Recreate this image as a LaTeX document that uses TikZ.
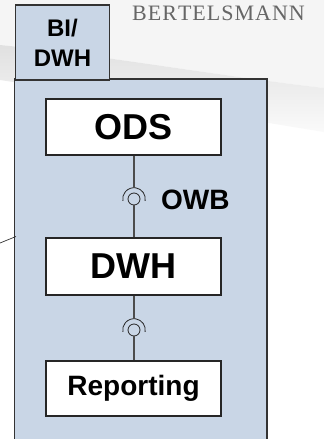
\documentclass[tikz,border=0pt]{standalone}
\usepackage{fontspec}
\setmainfont{Liberation Sans}
\newfontfamily\serifbrand{Liberation Serif}
\begin{document}
\begin{tikzpicture}[x=1pt,y=-1pt,
  comp/.style={draw=black!85,line width=1.2pt,fill=white,inner sep=0pt,font=\bfseries},
  container/.style={draw=black!80,line width=1.4pt,fill=boxblue},
  conn/.style={draw=black!70,line width=1.1pt},
  ballst/.style={circle,draw=black!85,line width=0.8pt,fill=boxblue,minimum size=12pt,inner sep=0pt},
  sockst/.style={draw=black!85,line width=0.8pt}
]
\definecolor{boxblue}{HTML}{C9D6E6}
\useasboundingbox (0,0) rectangle (324,439);
% background
\fill[white] (0,0) rectangle (324,439);
\fill[black!4] (0,0) -- (324,0) -- (324,88) .. controls (220,76) and (100,55) .. (0,45) -- cycle;
\shade[top color=black!12,bottom color=black!2] (0,45) .. controls (100,55) and (220,76) .. (324,88) -- (324,132) .. controls (220,115) and (100,95) .. (0,80) -- cycle;
% brand
\node[font=\serifbrand\fontsize{22}{24}\selectfont,text=black!60,anchor=center] (brand) at (218.5,13) {B\kern1ptE\kern1ptR\kern1ptT\kern1ptE\kern1ptL\kern1ptS\kern1ptM\kern1ptA\kern1ptN\kern1ptN};
% containers
\draw[container] (14.5,445) -- (14.5,79) -- (267,79) -- (267,445);
\node[container,minimum width=94.5pt,minimum height=75pt,anchor=north west,inner sep=0pt,align=center,font=\bfseries\fontsize{24}{30}\selectfont] (tab) at (14.5,4.3) {BI/\\DWH};
% components
\node[comp,minimum width=175pt,minimum height=56pt,font=\bfseries\fontsize{36}{40}\selectfont] (ods) at (133.5,127) {ODS};
\node[comp,minimum width=175pt,minimum height=57pt,font=\bfseries\fontsize{36}{40}\selectfont] (dwh) at (133.5,266.5) {DWH};
\node[comp,minimum width=175pt,minimum height=55pt,font=\bfseries\fontsize{28}{32}\selectfont] (rep) at (133.5,388.5) {Reporting};
% interfaces
\node[ballst] (ball1) at (134,199) {};
\node[ballst] (ball2) at (134,330) {};
\coordinate (sock1) at (134,187.7);
\coordinate (sock2) at (134,318.7);
\draw[sockst] (ball1.center) ++(10:11.3) arc[start angle=10,end angle=-190,radius=11.3];
\draw[sockst] (ball2.center) ++(10:11.3) arc[start angle=10,end angle=-190,radius=11.3];
\draw[conn] (ods.south -| sock1) -- (sock1);
\draw[conn] (ball1.south) -- (dwh.north -| ball1);
\draw[conn] (dwh.south -| sock2) -- (sock2);
\draw[conn] (ball2.south) -- (rep.north -| ball2);
\node[font=\bfseries\fontsize{28}{32}\selectfont,anchor=west,inner sep=0pt] (owb) at (161,200) {OWB};
% external link
\coordinate (extA) at (0,243);
\coordinate (extB) at (16,236.5);
\draw[draw=black!80,line width=0.7pt] (extA) -- (extB);
\end{tikzpicture}
\end{document}
